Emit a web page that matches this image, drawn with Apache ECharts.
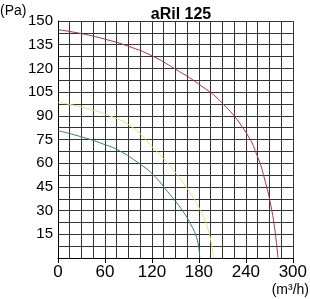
<!DOCTYPE html>
<html>
<head>
<meta charset="utf-8">
<script src="https://cdn.jsdelivr.net/npm/echarts@6/dist/echarts.min.js"></script>
<style>
  html, body { margin: 0; padding: 0; background: #fff; }
  #chart { width: 310px; height: 299px; }
</style>
</head>
<body>
<div id="chart"></div>
<script>
// 风量 (m³/h) / 压力 (Pa)
var redFlow = [0, 30, 60, 90, 120, 150, 180, 210, 240, 255, 265, 272, 277, 281];
var redPressure = [144.5, 142, 138.5, 134, 128, 119.5, 110, 98, 79.5, 64, 48, 33, 18, 0];
var yellowFlow = [0, 32, 66, 95, 122, 148, 165, 182, 192, 199];
var yellowPressure = [98.5, 95.3, 90, 82.7, 69.5, 55.4, 44, 30, 17.6, 0];
var greenFlow = [0, 32, 57, 78, 104, 122, 140, 157, 169, 178, 181];
var greenPressure = [80.6, 76.4, 72.3, 68, 59.7, 52.5, 42, 31.3, 21.8, 11.3, 0];

function pairs(xs, ys) {
    return xs.map(function (x, i) { return [x, ys[i]]; });
}

var chart = echarts.init(document.getElementById('chart'));
var gridColor = '#333';
var font = 'Liberation Sans, Arial, sans-serif';

chart.setOption({
    animation: false,
    title: {
        text: 'aRil 125',
        left: 176,
        top: 2,
        textAlign: 'center',
        textStyle: { fontFamily: font, fontWeight: 'bold', fontSize: 16, color: '#000' }
    },
    graphic: [
        { type: 'text', left: 0, top: 4, style: { text: '(Pa)', font: '14px ' + font, fill: '#000' } },
        { type: 'text', right: 1, top: 283, style: { text: '(m³/h)', font: '14px ' + font, fill: '#000' } }
    ],
    grid: { left: 58, right: 15, top: 21, bottom: 41 },
    xAxis: {
        type: 'value',
        min: 0, max: 300, interval: 60,
        axisLine: { lineStyle: { color: '#000', width: 1 } },
        axisTick: { show: true, length: 5, lineStyle: { color: '#000' } },
        axisLabel: { margin: 6, fontFamily: font, fontSize: 17, color: '#000' },
        splitLine: { show: true, lineStyle: { color: gridColor, width: 1 } },
        minorTick: { show: false, splitNumber: 4 },
        minorSplitLine: { show: true, lineStyle: { color: gridColor, width: 1 } }
    },
    yAxis: {
        type: 'value',
        min: 0, max: 150, interval: 15,
        axisLine: { show: true, lineStyle: { color: '#000', width: 1 } },
        axisTick: { show: false },
        axisLabel: {
            margin: 5, fontFamily: font, fontSize: 15, color: '#000',
            formatter: function (v) { return v === 0 ? '' : v; }
        },
        splitLine: { show: true, lineStyle: { color: gridColor, width: 1 } },
        minorTick: { show: false, splitNumber: 2 },
        minorSplitLine: { show: true, lineStyle: { color: gridColor, width: 1 } }
    },
    series: [
        { type: 'line', data: pairs(redFlow, redPressure), smooth: true, showSymbol: false,
          lineStyle: { color: '#a8324a', width: 1 } },
        { type: 'line', data: pairs(yellowFlow, yellowPressure), smooth: true, showSymbol: false,
          lineStyle: { color: '#e2e27a', width: 1 } },
        { type: 'line', data: pairs(greenFlow, greenPressure), smooth: true, showSymbol: false,
          lineStyle: { color: '#2f7f6a', width: 1 } }
    ]
});
</script>
</body>
</html>
